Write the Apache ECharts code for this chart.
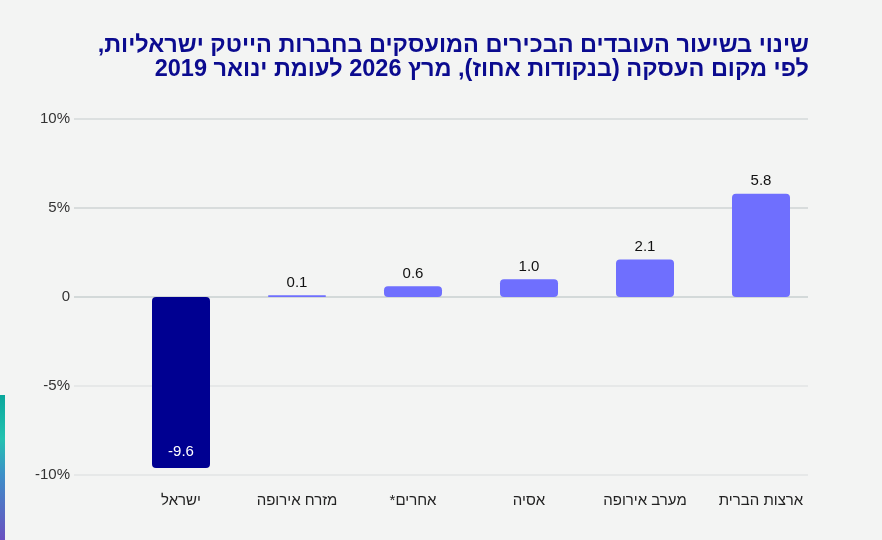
<!DOCTYPE html>
<html>
<head>
<meta charset="utf-8">
<script src="https://cdn.jsdelivr.net/npm/echarts@6/dist/echarts.min.js"></script>
<style>
  html, body { margin: 0; padding: 0; background: #f3f4f3; }
  #chart { width: 882px; height: 540px; }
</style>
</head>
<body>
<div id="chart"></div>
<script>
var myChart = echarts.init(document.getElementById('chart'));

// נתונים
var categories = ['ישראל', 'מזרח אירופה', '*אחרים', 'אסיה', 'מערב אירופה', 'ארצות הברית'];
var values = [-9.6, 0.1, 0.6, 1.0, 2.1, 5.8];
var yTicks = [-10, -5, 0, 5, 10];

// עטיפת שורה בכיוון ימין-לשמאל
function rtl(s) { return '\u202B' + s + '\u202C'; }
var fontFam = '"Liberation Sans", "DejaVu Sans", sans-serif';

var barData = values.map(function (v, i) {
	if (i === 0) {
		return {
			value: v,
			itemStyle: { color: '#000091' },
			label: { position: 'insideBottom', color: '#ffffff', distance: 9 }
		};
	}
	return v;
});

option = {
	backgroundColor: '#f3f4f3',
	animation: false,
	title: {
		text: rtl('שינוי בשיעור העובדים הבכירים המועסקים בחברות הייטק ישראליות,') + '\n' +
			rtl('לפי מקום העסקה (בנקודות אחוז), מרץ 2026 לעומת ינואר 2019'),
		left: 804,
		top: 29,
		textAlign: 'right',
		textStyle: {
			fontFamily: fontFam,
			fontSize: 23.5,
			fontWeight: 'bold',
			color: '#0b0b8f',
			lineHeight: 24
		}
	},
	graphic: [{
		type: 'rect',
		left: 0,
		top: 395,
		shape: { width: 5, height: 145 },
		style: {
			fill: new echarts.graphic.LinearGradient(0, 0, 0, 1, [
				{ offset: 0, color: '#0aa79c' },
				{ offset: 0.3, color: '#23c2b0' },
				{ offset: 0.55, color: '#3d8fc8' },
				{ offset: 1, color: '#6a4fc0' }
			])
		}
	}],
	grid: [
		{ left: 74, right: 74, top: 119, bottom: 65 },
		{ left: 123, right: 63, top: 119, bottom: 65 }
	],
	xAxis: [
		{ type: 'value', gridIndex: 0, show: false, min: 0, max: 1 },
		{
			type: 'category',
			gridIndex: 1,
			data: categories,
			axisLine: { show: false },
			axisTick: { show: false },
			axisLabel: {
				margin: 18,
				fontFamily: fontFam,
				fontSize: 15,
				color: '#222222'
			}
		}
	],
	yAxis: [
		{
			type: 'value',
			gridIndex: 0,
			min: yTicks[0],
			max: yTicks[yTicks.length - 1],
			interval: 5,
			axisLine: { show: false },
			axisTick: { show: false },
			axisLabel: {
				margin: 4,
				fontFamily: fontFam,
				fontSize: 15,
				color: '#333333',
				formatter: function (v) { return v === 0 ? '0' : v + '%'; }
			},
			splitLine: {
				lineStyle: {
					width: 1.5,
					color: ['#e2e5e5', '#e2e5e5', '#c9d1d1', '#cfd5d5', '#d5dada']
				}
			}
		},
		{
			type: 'value',
			gridIndex: 1,
			min: yTicks[0],
			max: yTicks[yTicks.length - 1],
			interval: 5,
			show: false,
			splitLine: { show: false }
		}
	],
	series: [
		{
			type: 'bar',
			xAxisIndex: 1,
			yAxisIndex: 1,
			data: barData,
			barWidth: 58,
			itemStyle: {
				color: '#6f6ffe',
				borderRadius: 4
			},
			label: {
				show: true,
				position: 'top',
				distance: 5,
				fontFamily: fontFam,
				fontSize: 15,
				color: '#111111',
				formatter: function (p) { return p.value.toFixed(1); }
			}
		}
	]
};

myChart.setOption(option);
</script>
</body>
</html>
